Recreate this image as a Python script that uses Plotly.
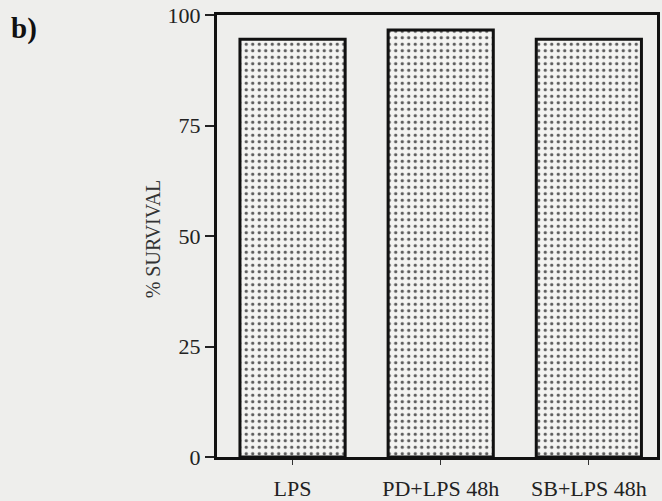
import plotly.graph_objects as go

# Survival after LPS treatments
categories = ["LPS", "PD+LPS 48h", "SB+LPS 48h"]
survival = [94.5, 96.6, 94.5]
y_ticks = [0, 25, 50, 75, 100]

bg = "#eeeeec"
serif = "Liberation Serif, Times New Roman, serif"

fig = go.Figure()
fig.add_trace(go.Bar(
    x=categories,
    y=survival,
    width=0.71,
    marker=dict(
        color="#f4f4f2",
        line=dict(color="#111111", width=3),
        pattern=dict(shape=".", size=6.5, solidity=0.2,
                     fgcolor="#5a5a5a", bgcolor="#f4f4f2", fillmode="replace"),
    ),
    showlegend=False,
))

fig.update_layout(
    width=662, height=501,
    margin=dict(l=217, r=5, t=15, b=44),
    paper_bgcolor=bg,
    plot_bgcolor=bg,
    font=dict(family=serif, color="#222222", size=22),
    xaxis=dict(
        range=[-0.51, 2.46],
        automargin=False,
        showline=True, linecolor="#111111", linewidth=3, mirror=True,
        ticks="outside", ticklen=5, tickwidth=1, tickcolor="#333333",
        tickfont=dict(size=22, family=serif),
        ticklabelstandoff=5,
        showgrid=False, zeroline=False,
    ),
    yaxis=dict(
        range=[0, 100],
        automargin=False,
        tickvals=y_ticks,
        showline=True, linecolor="#111111", linewidth=3, mirror=True,
        ticks="outside", ticklen=9, tickwidth=2, tickcolor="#222222",
        tickfont=dict(size=22, family=serif),
        showgrid=False, zeroline=False,
    ),
    bargap=0.29,
)

# rotated y-axis title
fig.add_annotation(
    text="% SURVIVAL", xref="paper", yref="paper",
    x=-0.145, y=0.493, xanchor="center", yanchor="middle",
    textangle=-90, showarrow=False,
    font=dict(size=20, family=serif, color="#333333"),
)

# panel letter
fig.add_annotation(
    text="<b>b)</b>", xref="paper", yref="paper",
    x=-0.438, y=0.97, xanchor="center", yanchor="middle",
    showarrow=False, font=dict(size=29, family=serif, color="#111111"),
)

fig.write_html("out.html")
